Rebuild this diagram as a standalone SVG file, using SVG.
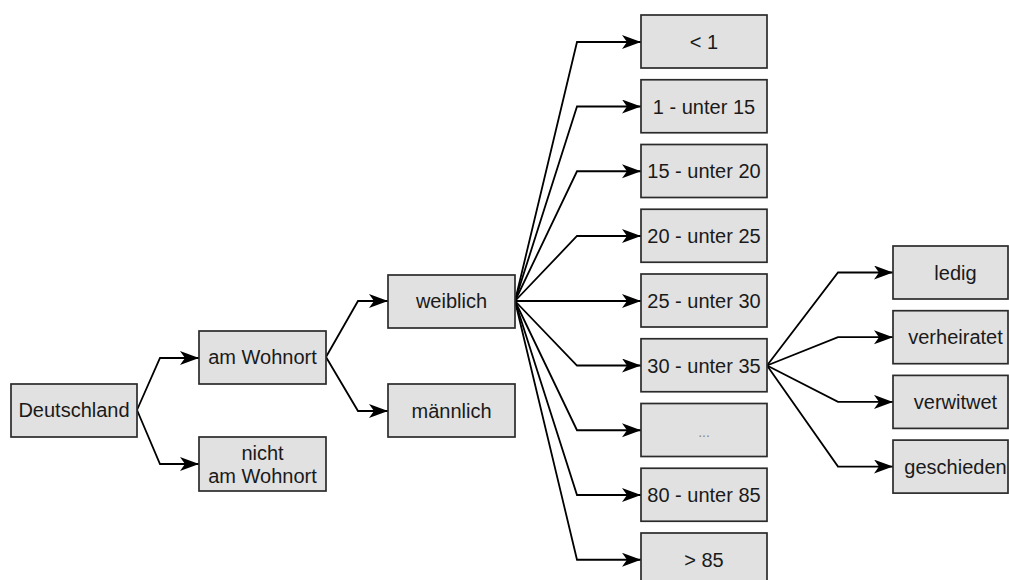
<svg xmlns="http://www.w3.org/2000/svg" width="1009" height="580" viewBox="0 0 1009 580">
<style>
.box{fill:#e1e1e1;stroke:#2b2b2b;stroke-width:1.7}
.t{font-family:"Liberation Sans",Arial,sans-serif;font-size:20px;fill:#1a1a1a;text-anchor:middle}
.c{fill:none;stroke:#000;stroke-width:1.8;marker-end:url(#ah)}
</style>
<defs>
<marker id="ah" markerUnits="userSpaceOnUse" markerWidth="21" markerHeight="15" refX="19" refY="7" orient="auto">
<path d="M0,0 L19,7 L0,14 L5,7 z" fill="#000"/>
</marker>
</defs>
<rect width="1009" height="580" fill="#fff"/>
<g id="connectors">
<path class="c" d="M137,410 L160,358 L199,358"/>
<path class="c" d="M137,410 L160,464 L199,464"/>
<path class="c" d="M326,357 L358,301 L388,301"/>
<path class="c" d="M326,357 L358,411 L388,411"/>
<path class="c" d="M515,301 L577,42 L641,42"/>
<path class="c" d="M515,301 L577,106.5 L641,106.5"/>
<path class="c" d="M515,301 L577,171.25 L641,171.25"/>
<path class="c" d="M515,301 L577,236 L641,236"/>
<path class="c" d="M515,301 L641,301"/>
<path class="c" d="M515,301 L577,365.5 L641,365.5"/>
<path class="c" d="M515,301 L577,430.25 L641,430.25"/>
<path class="c" d="M515,301 L577,495 L641,495"/>
<path class="c" d="M515,301 L577,559.75 L641,559.75"/>
<path class="c" d="M767,365.5 L838,272.5 L893,272.5"/>
<path class="c" d="M767,365.5 L838,337.2 L893,337.2"/>
<path class="c" d="M767,365.5 L838,401.9 L893,401.9"/>
<path class="c" d="M767,365.5 L838,466.6 L893,466.6"/>
</g>
<g id="deutschland"><rect class="box" x="11" y="384" width="126" height="53"/><text class="t" x="74" y="417">Deutschland</text></g>
<g id="am-wohnort"><rect class="box" x="199" y="331" width="127" height="53"/><text class="t" x="262.5" y="364">am Wohnort</text></g>
<g id="nicht-am-wohnort"><rect class="box" x="199" y="437" width="127" height="54"/><text class="t" x="262.5" y="460">nicht</text><text class="t" x="262.5" y="483">am Wohnort</text></g>
<g id="weiblich"><rect class="box" x="388" y="275" width="127" height="53"/><text class="t" x="451.5" y="308">weiblich</text></g>
<g id="maennlich"><rect class="box" x="388" y="384" width="127" height="53"/><text class="t" x="451.5" y="418">männlich</text></g>
<g id="age-lt1"><rect class="box" x="641" y="15" width="126" height="53"/><text class="t" x="704" y="49">&lt; 1</text></g>
<g id="age-1-15"><rect class="box" x="641" y="79.75" width="126" height="53"/><text class="t" x="704" y="113.5">1 - unter 15</text></g>
<g id="age-15-20"><rect class="box" x="641" y="144.5" width="126" height="53"/><text class="t" x="704" y="178.25">15 - unter 20</text></g>
<g id="age-20-25"><rect class="box" x="641" y="209.25" width="126" height="53"/><text class="t" x="704" y="243">20 - unter 25</text></g>
<g id="age-25-30"><rect class="box" x="641" y="274" width="126" height="53"/><text class="t" x="704" y="307.75">25 - unter 30</text></g>
<g id="age-30-35"><rect class="box" x="641" y="338.75" width="126" height="53"/><text class="t" x="704" y="372.5">30 - unter 35</text></g>
<g id="age-dots"><rect class="box" x="641" y="403.5" width="126" height="53"/><text class="t" x="704" y="437" style="font-size:14px;fill:#888">...</text></g>
<g id="age-80-85"><rect class="box" x="641" y="468.25" width="126" height="53"/><text class="t" x="704" y="502">80 - unter 85</text></g>
<g id="age-gt85"><rect class="box" x="641" y="533" width="126" height="53"/><text class="t" x="704" y="566.75">&gt; 85</text></g>
<g id="ledig"><rect class="box" x="893" y="246" width="115" height="53"/><text class="t" x="955.5" y="279.5">ledig</text></g>
<g id="verheiratet"><rect class="box" x="893" y="310.7" width="115" height="53"/><text class="t" x="955.5" y="344.2">verheiratet</text></g>
<g id="verwitwet"><rect class="box" x="893" y="375.4" width="115" height="53"/><text class="t" x="955.5" y="408.9">verwitwet</text></g>
<g id="geschieden"><rect class="box" x="893" y="440.1" width="115" height="53"/><text class="t" x="955.5" y="473.6">geschieden</text></g>
</svg>
